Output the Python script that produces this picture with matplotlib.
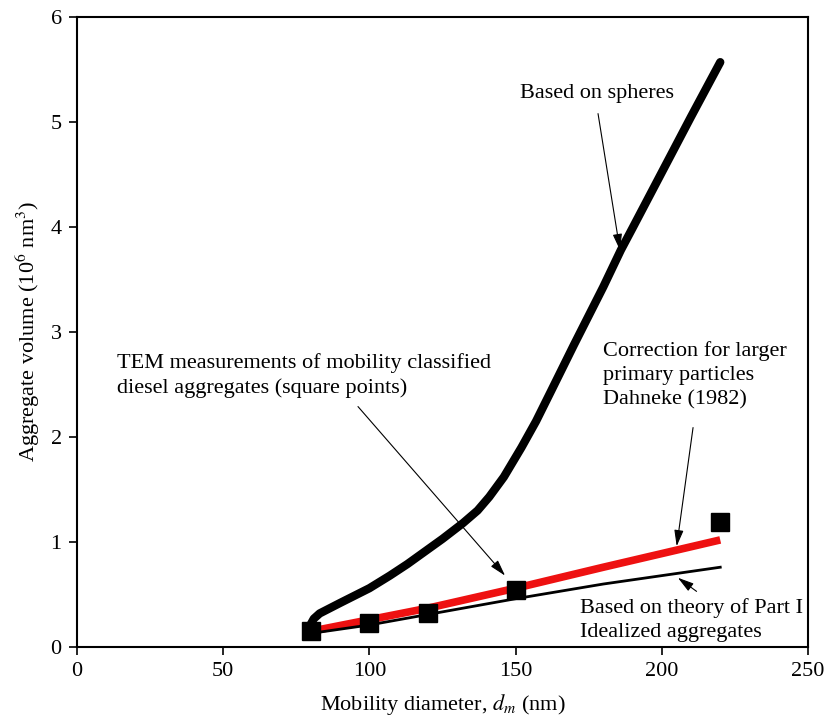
import matplotlib
matplotlib.use("Agg")
import matplotlib.pyplot as plt

plt.rcParams['font.family'] = ['Liberation Serif', 'DejaVu Serif']
plt.rcParams['mathtext.fontset'] = 'stix'

# curve based on spheres
sphere_d = [80, 81, 83, 90, 100, 107, 113, 118, 125, 132, 137, 141, 146, 152, 157, 162, 170, 180, 186, 190, 200, 210, 220]
sphere_v = [0.22, 0.27, 0.32, 0.42, 0.56, 0.68, 0.79, 0.89, 1.03, 1.18, 1.30, 1.43, 1.62, 1.90, 2.15, 2.43, 2.88, 3.43, 3.78, 3.99, 4.52, 5.05, 5.57]

# correction for larger primary particles (Dahneke 1982)
dahneke_d = [80, 100, 120, 150, 180, 220]
dahneke_v = [0.15, 0.26, 0.37, 0.56, 0.76, 1.02]

# theory of Part I, idealized aggregates
theory_d = [80, 100, 120, 150, 180, 220]
theory_v = [0.13, 0.21, 0.31, 0.46, 0.60, 0.76]

# TEM measurements (square points)
tem_d = [80, 100, 120, 150, 220]
tem_v = [0.15, 0.23, 0.32, 0.54, 1.19]

fig = plt.figure(figsize=(8.28, 7.21), dpi=100)
ax = fig.add_axes([0.093, 0.1026, 0.8828, 0.8738])

ax.plot(sphere_d, sphere_v, color='black', lw=6, solid_capstyle='round',
        solid_joinstyle='round', zorder=3)
ax.plot(dahneke_d, dahneke_v, color='#ee1111', lw=5.5, solid_capstyle='butt', zorder=3)
ax.plot(theory_d, theory_v, color='black', lw=2, zorder=4)
ax.plot(tem_d, tem_v, 's', color='black', ms=13, zorder=5)

arrow = dict(arrowstyle='-|>,head_length=0.7,head_width=0.2', color='black', lw=0.8,
             mutation_scale=14, shrinkA=0, shrinkB=0)
fs = 16
ls = 1.36

ax.text(177.8, 5.27, 'Based on spheres', ha='center', va='center', fontsize=fs)
ax.annotate('', xy=(185.7, 3.78), xytext=(178.2, 5.08), arrowprops=arrow)

ax.text(13.7, 2.59, 'TEM measurements of mobility classified\ndiesel aggregates (square points)',
        ha='left', va='center', fontsize=fs, linespacing=ls)
ax.annotate('', xy=(146.4, 0.68), xytext=(96.1, 2.29), arrowprops=arrow)

ax.text(179.9, 2.59, 'Correction for larger\nprimary particles\nDahneke (1982)',
        ha='left', va='center', fontsize=fs, linespacing=ls)
ax.annotate('', xy=(205.1, 0.96), xytext=(210.7, 2.09), arrowprops=arrow)

ax.text(172, 0.26, 'Based on theory of Part I\nIdealized aggregates',
        ha='left', va='center', fontsize=fs, linespacing=ls)
ax.annotate('', xy=(205.5, 0.66), xytext=(211.9, 0.53), arrowprops=arrow)

ax.set_xlim(0, 250)
ax.set_ylim(0, 6)
ax.set_xticks([0, 50, 100, 150, 200, 250])
ax.set_yticks([0, 1, 2, 3, 4, 5, 6])
ax.tick_params(direction='out', length=6, width=1.2, labelsize=fs, pad=5)
for s in ax.spines.values():
    s.set_linewidth(1.5)

ax.set_xlabel('Mobility diameter, $d_m$ (nm)', fontsize=fs, labelpad=8)
ax.set_ylabel('Aggregate volume (10$^6$ nm$^3$)', fontsize=fs, labelpad=6)

fig.savefig('out.png', dpi=100)
